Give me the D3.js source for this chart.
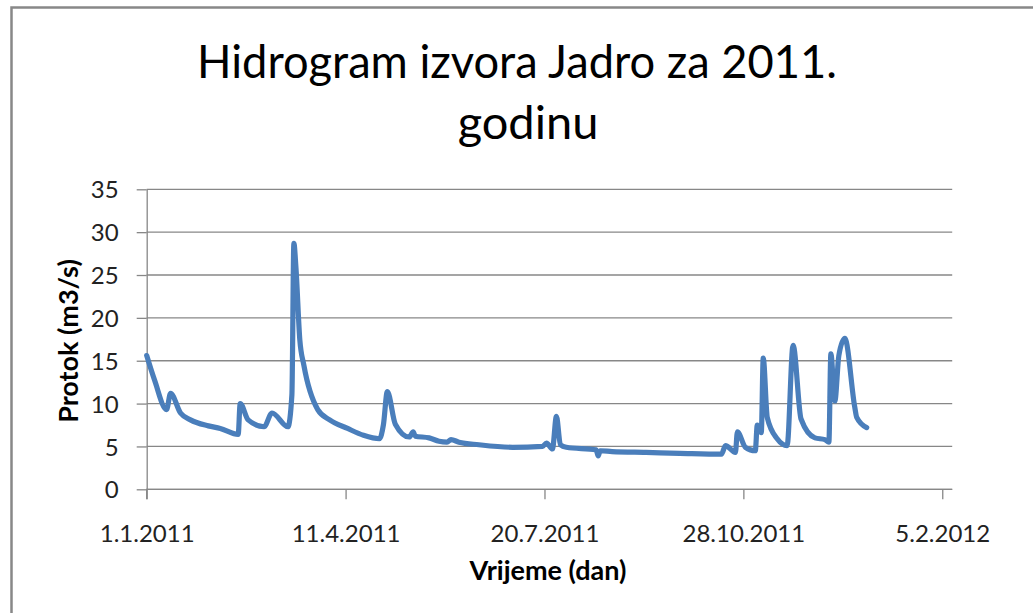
<!DOCTYPE html>
<html>
<head>
<meta charset="utf-8">
<script src="https://cdn.jsdelivr.net/npm/d3@7"></script>
<style>
  body { margin: 0; background: #fff; }
  svg { display: block; font-family: Lato, "Open Sans", sans-serif; }
</style>
</head>
<body>
<div id="wrapper"></div>
<script>
// daily discharge of the Jadro spring
const dates = [
  "2011-01-01", "2011-01-05", "2011-01-11", "2011-01-13", "2011-01-18", "2011-01-23",
  "2011-02-01", "2011-02-07", "2011-02-16", "2011-02-17", "2011-02-21", "2011-03-01",
  "2011-03-05", "2011-03-13", "2011-03-15", "2011-03-16", "2011-03-17", "2011-03-19",
  "2011-03-21", "2011-03-28", "2011-04-03", "2011-04-12", "2011-04-20", "2011-04-28",
  "2011-04-30", "2011-05-02", "2011-05-06", "2011-05-13", "2011-05-15", "2011-05-16",
  "2011-05-23", "2011-05-28", "2011-06-01", "2011-06-03", "2011-06-07", "2011-06-17",
  "2011-07-04", "2011-07-19", "2011-07-21", "2011-07-24", "2011-07-26", "2011-07-28",
  "2011-07-31", "2011-08-15", "2011-08-16", "2011-08-17", "2011-08-23", "2011-09-09",
  "2011-09-26", "2011-10-17", "2011-10-19", "2011-10-24", "2011-10-25", "2011-10-29",
  "2011-11-03", "2011-11-04", "2011-11-06", "2011-11-07", "2011-11-09", "2011-11-14",
  "2011-11-19", "2011-11-22", "2011-11-26", "2011-12-03", "2011-12-08", "2011-12-10",
  "2011-12-11", "2011-12-13", "2011-12-15", "2011-12-18", "2011-12-23", "2011-12-24",
  "2011-12-29"
]
const flows = [
  15.6, 12.7, 9.3, 11.2, 8.9, 8.1,
  7.4, 7.1, 6.4, 10.0, 8.1, 7.3,
  8.9, 7.3, 11.0, 28.7, 26.0, 17.4,
  14.5, 9.3, 8.1, 7.1, 6.3, 5.9,
  7.5, 11.4, 7.6, 6.1, 6.7, 6.2,
  6.0, 5.6, 5.5, 5.8, 5.5, 5.2,
  4.9, 5.0, 5.4, 4.7, 8.5, 5.2,
  4.9, 4.6, 3.9, 4.5, 4.4, 4.3,
  4.2, 4.1, 5.1, 4.3, 6.7, 4.9,
  4.5, 7.5, 6.6, 15.3, 8.4, 5.9,
  5.1, 16.8, 8.2, 6.0, 5.8, 5.5,
  15.8, 10.3, 15.6, 17.6, 9.6, 8.4,
  7.2
]

const xTicks = ["2011-01-01", "2011-04-11", "2011-07-20", "2011-10-28", "2012-02-05"]
const yTicks = [0, 5, 10, 15, 20, 25, 30, 35]

const parseDate = d3.timeParse("%Y-%m-%d")
const formatDate = d3.timeFormat("%-d.%-m.%Y")

const data = dates.map((d, i) => ({ date: parseDate(d), flow: flows[i] }))

const width = 1033
const height = 613
const margin = { top: 189.3, right: 80, bottom: 123.7, left: 146.7 }
const boundedHeight = height - margin.top - margin.bottom

const svg = d3.select("#wrapper")
  .append("svg")
    .attr("width", width)
    .attr("height", height)

// chart frame
svg.append("rect")
  .attr("x", 11.5)
  .attr("y", 7.5)
  .attr("width", 1100)
  .attr("height", 700)
  .attr("fill", "#fff")
  .attr("stroke", "#888")
  .attr("stroke-width", 2.5)

const bounds = svg.append("g")
  .attr("transform", `translate(${margin.left},${margin.top})`)

const xScale = d3.scaleTime()
  .domain([parseDate("2011-01-01"), parseDate("2012-02-10")])
  .range([0, 805.5])

const yScale = d3.scaleLinear()
  .domain([0, 35])
  .range([boundedHeight, 0])

// horizontal gridlines
bounds.selectAll(".grid")
  .data(yTicks)
  .join("line")
    .attr("class", "grid")
    .attr("x1", 0)
    .attr("x2", xScale.range()[1])
    .attr("y1", d => yScale(d))
    .attr("y2", d => yScale(d))
    .attr("stroke", "#878787")
    .attr("stroke-width", 1.3)

const yAxis = bounds.append("g")
  .call(d3.axisLeft(yScale).tickValues(yTicks).tickSize(10).tickSizeOuter(0).tickPadding(18))
yAxis.selectAll("line, path").attr("stroke", "#878787").attr("stroke-width", 1.3)
yAxis.selectAll("text")
  .attr("fill", "#222")
  .style("font-size", "24px")
  .style("font-family", "Lato, sans-serif")
  .attr("dy", "0.36em")

const xAxis = bounds.append("g")
  .attr("transform", `translate(0,${boundedHeight})`)
  .call(d3.axisBottom(xScale)
    .tickValues(xTicks.map(parseDate))
    .tickFormat(formatDate)
    .tickSize(10)
    .tickSizeOuter(0)
    .tickPadding(28))
xAxis.select(".domain").attr("d", `M0,10V0H${xScale.range()[1]}`)
xAxis.selectAll("line, path").attr("stroke", "#878787").attr("stroke-width", 1.3)
xAxis.selectAll("text")
  .attr("fill", "#222")
  .attr("dy", "0.63em")
  .style("font-size", "24px")
  .style("font-family", "Lato, sans-serif")

const lineGenerator = d3.line()
  .x(d => xScale(d.date))
  .y(d => yScale(d.flow))
  .curve(d3.curveMonotoneX)

bounds.append("path")
  .datum(data)
  .attr("d", lineGenerator)
  .attr("fill", "none")
  .attr("stroke", "#4A7EBB")
  .attr("stroke-width", 5.2)
  .attr("stroke-linejoin", "round")
  .attr("stroke-linecap", "round")

// titles
const title = svg.append("text")
  .attr("text-anchor", "middle")
  .attr("fill", "#000")
  .style("font-size", "47px")
title.append("tspan")
  .attr("x", 517)
  .attr("y", 78)
  .attr("textLength", 640)
  .attr("lengthAdjust", "spacingAndGlyphs")
  .text("Hidrogram izvora Jadro za 2011.")
title.append("tspan")
  .attr("x", 528)
  .attr("y", 139)
  .text("godinu")

svg.append("text")
  .attr("x", 548)
  .attr("y", 580)
  .attr("text-anchor", "middle")
  .style("font-size", "27px")
  .style("font-weight", "bold")
  .attr("fill", "#000")
  .text("Vrijeme (dan)")

svg.append("text")
  .attr("transform", "translate(78,341) rotate(-90)")
  .attr("text-anchor", "middle")
  .style("font-size", "27px")
  .style("font-weight", "bold")
  .attr("fill", "#000")
  .text("Protok (m3/s)")
</script>
</body>
</html>
